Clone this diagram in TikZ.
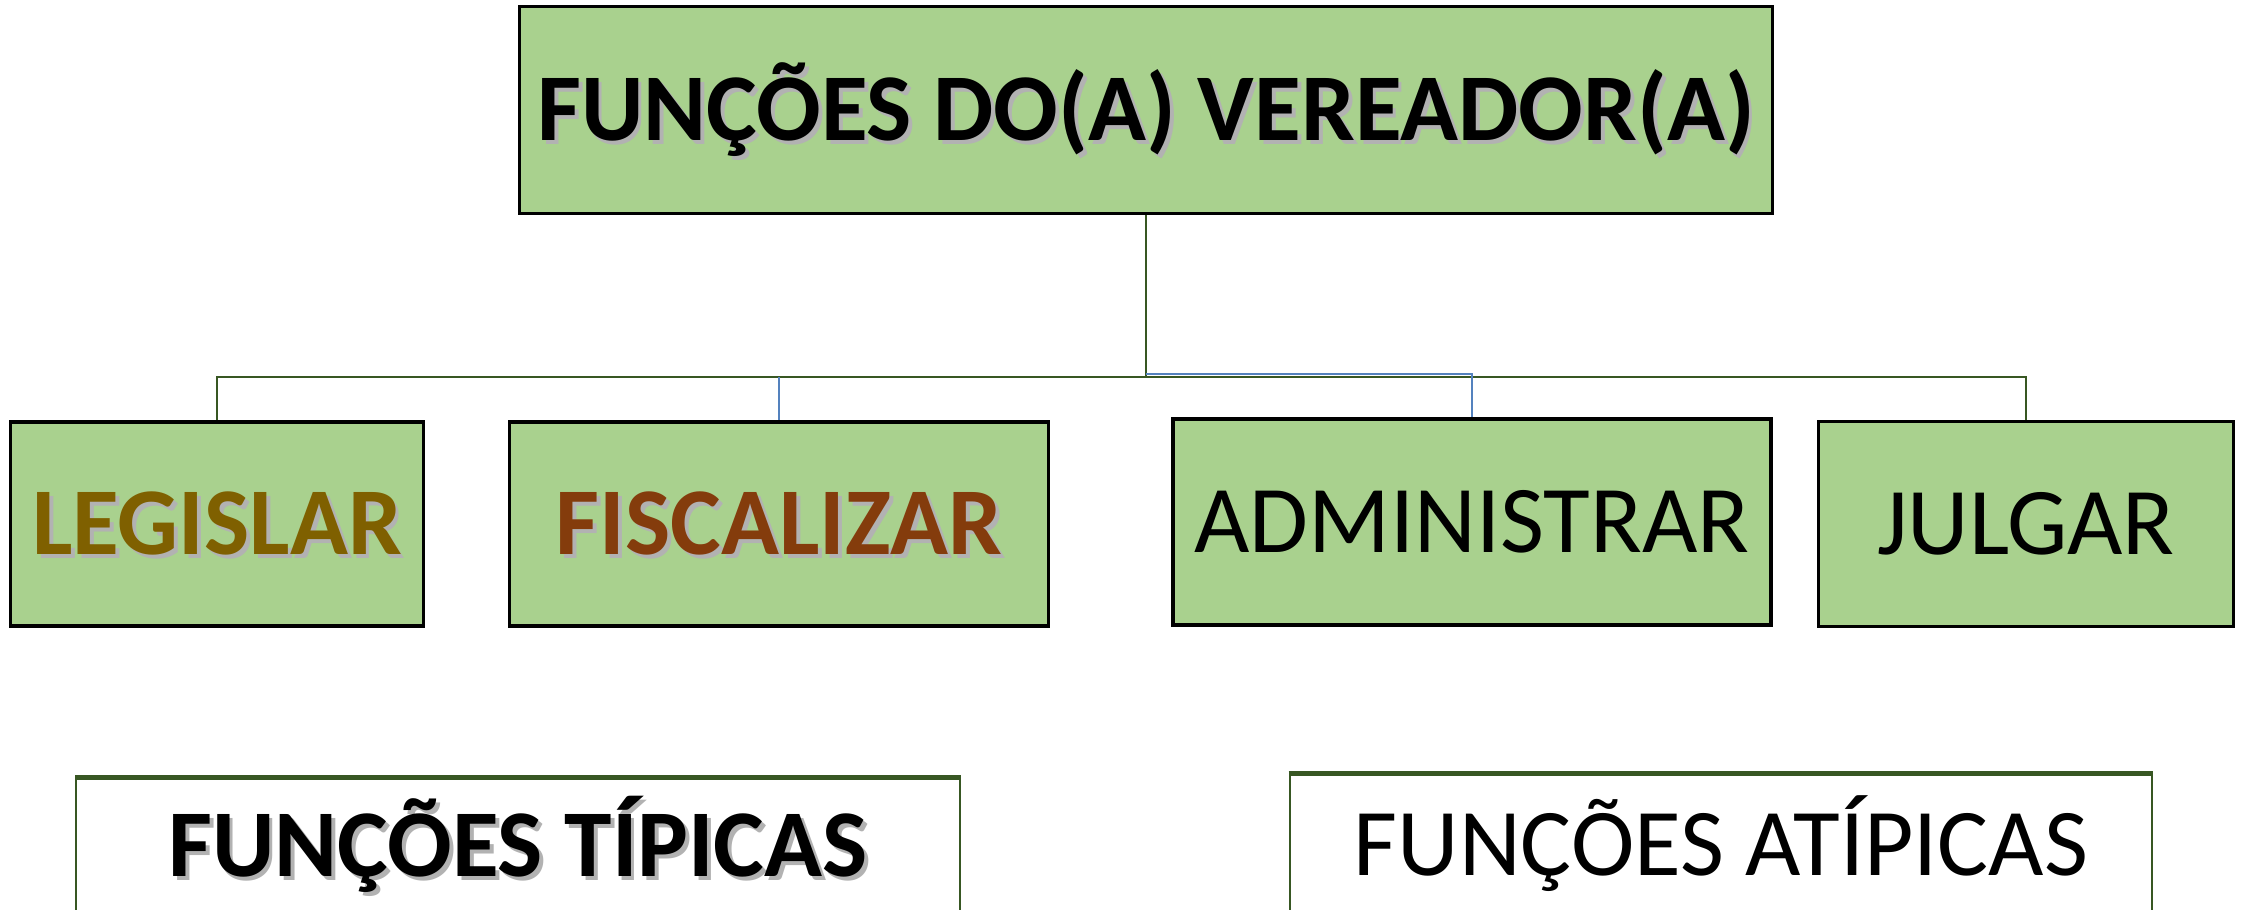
\documentclass[tikz,border=0pt]{standalone}
\usepackage{fontspec}
\setmainfont{Carlito}
\usepackage{tikz}

\definecolor{boxgreen}{RGB}{169,209,142}
\definecolor{linegreen}{RGB}{56,87,35}
\definecolor{lineblue}{RGB}{84,130,190}
\definecolor{olivetxt}{RGB}{127,96,0}
\definecolor{browntxt}{RGB}{132,60,12}
\newcommand{\shadowed}[1]{\rlap{\hspace{1.1pt}\raisebox{-1.1pt}{\textcolor{black!30}{#1}}}#1}

\begin{document}
\begin{tikzpicture}[x=0.01cm,y=-0.01cm,
  funcbox/.style={draw=black,line width=1pt,fill=boxgreen,inner sep=0pt,text depth=0pt},
  typebox/.style={draw=linegreen,line width=0.6pt,fill=white,inner sep=0pt,text depth=0pt},
  bigfont/.style={font=\fontsize{27.2}{32}\selectfont,text height=17.6pt},
  link/.style={draw=linegreen,line width=0.8pt},
  bluelink/.style={draw=lineblue,line width=0.8pt}]
  \useasboundingbox (0,0) rectangle (2241,910);

  % Top box
  \node[funcbox,bigfont,minimum width=12.52cm,minimum height=2.07cm] (vereador) at (1146,110) {\bfseries\shadowed{FUNÇÕES DO(A) VEREADOR(A)}};

  % Functions
  \node[funcbox,bigfont,text=olivetxt,minimum width=4.13cm,minimum height=2.04cm] (legislar) at (217,524) {\bfseries\shadowed{LEGISLAR}};
  \node[funcbox,bigfont,text=browntxt,minimum width=5.39cm,minimum height=2.04cm] (fiscalizar) at (779,524) {\bfseries\shadowed{FISCALIZAR}};
  \node[funcbox,bigfont,minimum width=5.98cm,minimum height=2.06cm] (administrar) at (1472,522) {ADMINISTRAR};
  \node[funcbox,bigfont,minimum width=4.15cm,minimum height=2.05cm] (julgar) at (2026,524) {JULGAR};

  % Connectors
  \coordinate (bus) at (1146,377);
  \coordinate (busb) at (1146,374);
  \draw[link] (vereador.south) -- (bus);
  \draw[link] (bus) -| (legislar.north);
  \draw[link] (bus) -| (julgar.north);
  \draw[bluelink] (fiscalizar.north |- bus) -- (fiscalizar.north);
  \draw[bluelink] (busb) -| (administrar.north);

  % Typical / atypical
  \node[typebox,bigfont,minimum width=8.83cm,minimum height=1.34cm] (tipicas) at (518,846) {\bfseries\shadowed{FUNÇÕES TÍPICAS}};
  \node[typebox,bigfont,minimum width=8.62cm,minimum height=1.40cm] (atipicas) at (1721,845) {FUNÇÕES ATÍPICAS};
  \draw[linegreen,line width=1.4pt] (tipicas.north west) -- (tipicas.north east);
  \draw[linegreen,line width=1.4pt] (atipicas.north west) -- (atipicas.north east);

\end{tikzpicture}
\end{document}
